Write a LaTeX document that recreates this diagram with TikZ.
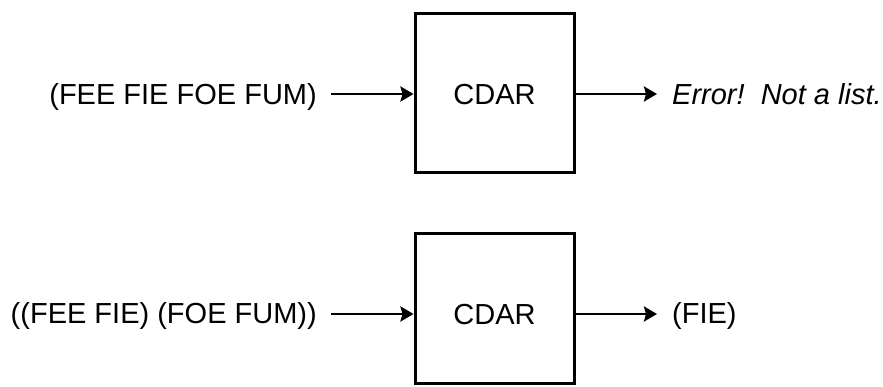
\documentclass[tikz,border=0pt]{standalone}
\usepackage{fontspec}
\setmainfont{Liberation Sans}
\usetikzlibrary{arrows.meta}
\begin{document}
\begin{tikzpicture}[x=1pt,y=-1pt,
  boxnode/.style={draw=black,line width=3pt,minimum width=159pt,inner sep=0pt,font=\fontsize{29}{31}\selectfont,text depth=0pt},
  lbl/.style={inner sep=0pt,font=\fontsize{29}{31}\selectfont},
  arr/.style={line width=2.8pt,-{Stealth[length=13pt,width=15pt,inset=2pt]}}]
\useasboundingbox (0,0) rectangle (883,387);
\fill[white] (0,0) rectangle (883,387);
% top row
\node[boxnode,minimum height=159pt,text height=23pt] (b1) at (494.5,93.5) {CDAR};
\node[lbl,anchor=base east] (i1) at (317,104.5) {(FEE FIE FOE FUM)};
\node[lbl,anchor=base west] (o1) at (672,104.5) {\itshape Error!\ \ Not a list.};
\coordinate (s1) at (331,94);
\draw[arr] (s1) -- (s1 -| b1.west);
\draw[arr] (s1 -| b1.east) -- ([xshift=-15pt]o1.west |- s1);
% bottom row
\node[boxnode,minimum height=149pt,text height=31pt] (b2) at (494.5,308.5) {CDAR};
\node[lbl,anchor=base east] (i2) at (317,323.5) {((FEE FIE) (FOE FUM))};
\node[lbl,anchor=base west] (o2) at (672,323.5) {(FIE)};
\coordinate (s2) at (331,314);
\draw[arr] (s2) -- (s2 -| b2.west);
\draw[arr] (s2 -| b2.east) -- ([xshift=-15pt]o2.west |- s2);
\end{tikzpicture}
\end{document}
